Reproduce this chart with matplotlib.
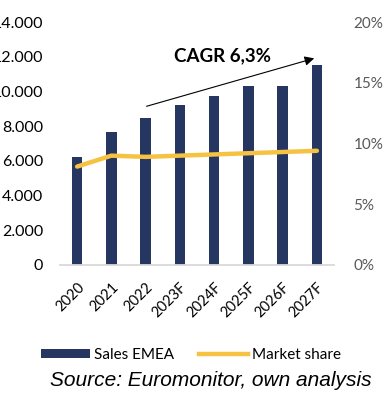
import matplotlib
matplotlib.use("Agg")
import matplotlib.pyplot as plt
from matplotlib.lines import Line2D
from matplotlib.patches import Patch

years = ["2020", "2021", "2022", "2023F", "2024F", "2025F", "2026F", "2027F"]
sales_emea = [6200, 7650, 8450, 9200, 9750, 10300, 10300, 11500]
market_share = [8.1, 9.0, 8.9, 9.0, 9.1, 9.2, 9.3, 9.4]
left_ticks = [0, 2000, 4000, 6000, 8000, 10000, 12000, 14000]
left_labels = ["0", "2.000", "4.000", "6.000", "8.000", "10.000", "12.000", "14.000"]
right_ticks = [0, 5, 10, 15, 20]
right_labels = ["0%", "5%", "10%", "15%", "20%"]
cagr_label = "CAGR 6,3%"

navy = "#253761"
yellow = "#F6C242"
font = ["Lato", "DejaVu Sans"]

fig = plt.figure(figsize=(3.9, 4.01), dpi=100)
ax = fig.add_axes([60 / 390, 1 - 265 / 401, 274 / 390, 243 / 401])
x = range(len(years))
ax.bar(x, sales_emea, width=0.3, color=navy, zorder=2)
ax.set_xlim(-0.5, len(years) - 0.5)
ax.set_ylim(0, 14000)
ax.set_yticks(left_ticks)
ax.set_yticklabels(left_labels, fontsize=11.5, family=font, color="black")
ax.set_xticks(list(x))
ax.set_xticklabels(years, rotation=45, ha="right", rotation_mode="anchor",
                   fontsize=10.5, family=font)
ax.tick_params(axis="y", length=0, pad=12)
ax.tick_params(axis="x", length=0, pad=11)
for s in ["top", "right", "left"]:
    ax.spines[s].set_visible(False)
ax.spines["bottom"].set_color("#d9d9d9")
ax.spines["bottom"].set_linewidth(1.3)

ax2 = ax.twinx()
ax2.plot(list(x), market_share, color=yellow, linewidth=3.2, zorder=3,
         solid_capstyle="round")
ax2.set_ylim(0, 20)
ax2.set_yticks(right_ticks)
ax2.set_yticklabels(right_labels, fontsize=11, family=font, color="#595959")
ax2.tick_params(axis="y", length=0, pad=14)
for s in ["top", "right", "left", "bottom"]:
    ax2.spines[s].set_visible(False)

# growth arrow and label
ax.annotate("", xy=(7.0, 11950), xytext=(1.95, 9100),
            arrowprops=dict(arrowstyle="-|>", color="black", lw=0.8,
                            mutation_scale=14))
ax.text(4.25, 12050, cagr_label, fontsize=13.5, fontweight="bold",
        family=font, ha="center", va="center")

handles = [Patch(facecolor=navy, edgecolor="none"),
           Line2D([0], [0], color=yellow, linewidth=3.2)]
fig.legend(handles, ["Sales EMEA", "Market share"], loc="center",
           bbox_to_anchor=(0.49, 1 - 355 / 401), ncol=2, frameon=False,
           prop={"family": font, "size": 11}, handlelength=3.2,
           handletextpad=0.3, columnspacing=1.6, handleheight=0.6)

fig.text(0.541, 1 - 381 / 401, "Source: Euromonitor, own analysis",
         fontsize=15, style="italic", family=["Liberation Sans", "DejaVu Sans"],
         ha="center", va="center")

fig.savefig("out.png", dpi=100)
